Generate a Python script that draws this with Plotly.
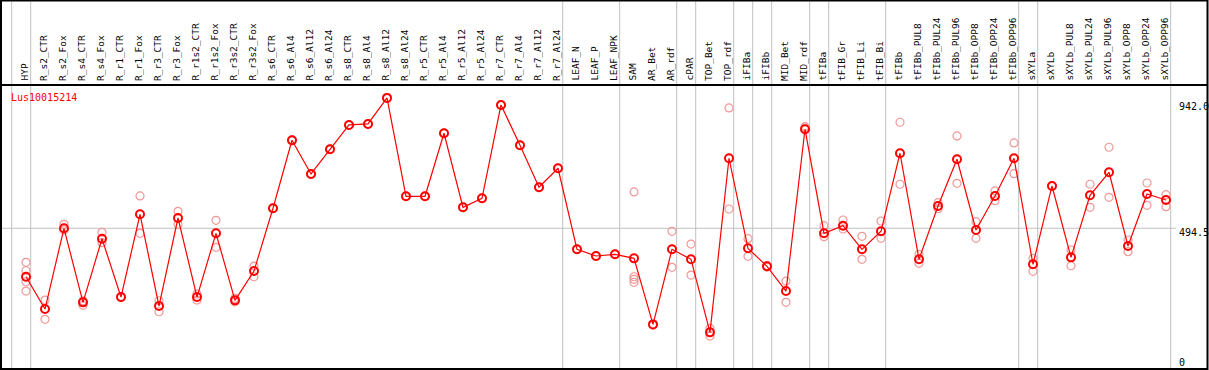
import plotly.graph_objects as go

categories = ["HYP", "R_s2_CTR", "R_s2_Fox", "R_s4_CTR", "R_s4_Fox", "R_r1_CTR", "R_r1_Fox",
              "R_r3_CTR", "R_r3_Fox", "R_r1s2_CTR", "R_r1s2_Fox", "R_r3s2_CTR", "R_r3s2_Fox",
              "R_s6_CTR", "R_s6_Al4", "R_s6_Al12", "R_s6_Al24", "R_s8_CTR", "R_s8_Al4",
              "R_s8_Al12", "R_s8_Al24", "R_r5_CTR", "R_r5_Al4", "R_r5_Al12", "R_r5_Al24",
              "R_r7_CTR", "R_r7_Al4", "R_r7_Al12", "R_r7_Al24", "LEAF_N", "LEAF_P", "LEAF_NPK",
              "SAM", "AR_Bet", "AR_rdf", "cPAR", "TOP_Bet", "TOP_rdf", "iFIBa", "iFIBb",
              "MID_Bet", "MID_rdf", "tFIBa", "tFIB_Gr", "tFIB_Li", "tFIB_Bi", "tFIBb",
              "tFIBb_PUL8", "tFIBb_PUL24", "tFIBb_PUL96", "tFIBb_OPP8", "tFIBb_OPP24",
              "tFIBb_OPP96", "sXYLa", "sXYLb", "sXYLb_PUL8", "sXYLb_PUL24", "sXYLb_PUL96",
              "sXYLb_OPP8", "sXYLb_OPP24", "sXYLb_OPP96"]

means = [315.0, 195.3, 494.4, 220.2, 455.9, 239.8, 546.3, 206.4, 532.6, 239.8, 475.9, 227.6,
         336.2, 568.6, 820.6, 695.7, 787.2, 877.3, 881.0, 977.4, 613.0, 613.0, 846.5, 572.3,
         605.6, 951.4, 802.1, 646.4, 716.8, 416.6, 391.8, 398.1, 383.2, 138.6, 416.6, 379.5,
         109.0, 753.9, 420.3, 353.6, 262.0, 861.4, 475.9, 504.1, 416.6, 483.3, 772.4, 379.5,
         577.1, 750.2, 488.1, 614.2, 753.9, 361.0, 651.2, 386.9, 616.7, 702.0, 428.8, 621.6,
         599.3]

replicates = [
    [368.4, 337.3, 296.5, 262.0], [228.7, 157.2], [509.3, 488.1], [226.1, 209.0],
    [479.6, 441.1], [241.0, 238.5], [614.2, 475.9], [226.1, 185.3], [557.4, 509.3],
    [250.9, 228.7], [524.1, 424.0], [235.0, 222.0], [354.7, 315.0], [570.0, 567.0],
    [822.0, 819.0], [697.0, 694.0], [788.0, 786.0], [878.0, 876.0], [882.0, 880.0],
    [978.0, 976.0], [614.0, 612.0], [614.0, 612.0], [847.0, 846.0], [573.0, 571.0],
    [606.0, 605.0], [952.0, 950.0], [803.0, 801.0], [647.0, 645.0], [717.0, 716.0],
    [417.0, 416.0], [392.0, 391.0], [398.5, 397.5], [629.0, 315.0, 305.4, 294.3],
    [139.0, 136.0], [483.3, 349.9], [436.2, 321.3], [123.8, 95.3], [940.3, 566.0],
    [455.9, 390.7], [356.0, 351.0], [299.1, 220.2], [871.0, 866.0], [504.1, 463.3],
    [525.2, 491.8], [464.8, 379.5], [521.5, 457.4], [887.3, 657.5], [398.1, 364.7],
    [589.3, 567.1], [836.5, 661.2], [518.9, 457.4], [632.7, 596.7], [810.6, 696.8],
    [383.2, 335.1], [652.0, 650.0], [414.0, 355.8], [657.5, 572.3], [794.7, 609.3],
    [451.1, 407.7], [662.3, 579.7], [619.0, 574.5]]

separators_after = [-1, 0, 28, 31, 34, 35, 37, 38, 39, 41, 42, 45, 52, 53, 60]

y_ticks = [942.0, 494.5, 0]
y_tick_text = ["942.0", "494.5", "0"]
gene_name = "Lus10015214"

W, H = 1209, 370
X0 = -26 / 19.0
X1 = X0 + W / 19.0
# value -> pixel: py = 361.8 - 0.27 * v
Y_BOTTOM = (361.8 - H) / 0.27
Y_TOP = 361.8 / 0.27


def px(x):
    return x / W


def py(y):
    return 1 - y / H


idx = list(range(len(categories)))
rep_x, rep_y = [], []
for i, reps in enumerate(replicates):
    for v in reps:
        rep_x.append(i)
        rep_y.append(v)

fig = go.Figure()
fig.add_trace(go.Scatter(
    x=rep_x, y=rep_y, mode="markers",
    marker=dict(symbol="circle-open", size=8, color="#f09898", line=dict(width=1.2)),
    hoverinfo="skip", showlegend=False))
fig.add_trace(go.Scatter(
    x=idx, y=means, mode="lines+markers",
    line=dict(color="#ff0000", width=1.2),
    marker=dict(symbol="circle-open", size=8, color="#ff0000", line=dict(width=2)),
    showlegend=False, text=categories))

shapes = []
for s in separators_after:
    shapes.append(dict(type="line", xref="x", yref="paper", x0=s + 0.247, x1=s + 0.247,
                       y0=py(369), y1=1, line=dict(color="#c0c0c0", width=1), layer="below"))
shapes.append(dict(type="line", xref="paper", yref="y", x0=0, x1=px(1176), y0=y_ticks[1],
                   y1=y_ticks[1], line=dict(color="#c0c0c0", width=1), layer="below"))
shapes.append(dict(type="rect", xref="paper", yref="paper", x0=px(1), x1=px(1207.5),
                   y0=py(369), y1=py(0.5), line=dict(color="black", width=2)))
shapes.append(dict(type="line", xref="paper", yref="paper", x0=px(1), x1=px(1207.5),
                   y0=py(85), y1=py(85), line=dict(color="black", width=2)))

annotations = []
for i, c in enumerate(categories):
    annotations.append(dict(x=i, y=py(83), xref="x", yref="paper", text=c, showarrow=False,
                            textangle=-90, xanchor="center", yanchor="bottom", xshift=-2,
                            font=dict(family="DejaVu Sans Mono", size=9.5, color="black")))
tick_pix = [107, 232.5, 362]
for t, p in zip(y_tick_text, tick_pix):
    annotations.append(dict(x=px(1177), y=py(p), xref="paper", yref="paper", text=t,
                            showarrow=False, xanchor="left", yanchor="middle",
                            font=dict(family="DejaVu Sans Mono", size=10, color="black")))
annotations.append(dict(x=px(9), y=py(97), xref="paper", yref="paper", text=gene_name,
                        showarrow=False, xanchor="left", yanchor="middle",
                        font=dict(family="DejaVu Sans Mono", size=10, color="#ff0000")))

fig.update_layout(
    width=W, height=H, margin=dict(l=0, r=0, t=0, b=0),
    paper_bgcolor="white", plot_bgcolor="white",
    xaxis=dict(range=[X0, X1], visible=False, fixedrange=True),
    yaxis=dict(range=[Y_BOTTOM, Y_TOP], visible=False, fixedrange=True),
    shapes=shapes, annotations=annotations, showlegend=False)

fig.write_html("out.html", config={"displayModeBar": False},
               post_script="document.body.style.margin='0px';document.body.style.overflow='hidden';")
